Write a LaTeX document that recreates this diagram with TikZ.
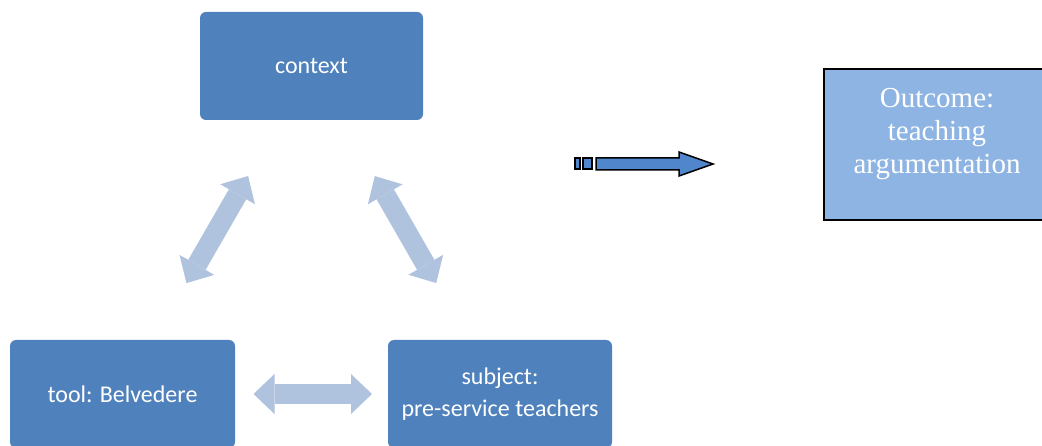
\documentclass[tikz,border=0pt]{standalone}
\usepackage{fontspec}
\setmainfont{Carlito}
\newfontfamily\timesfont{Liberation Serif}
\usetikzlibrary{arrows.meta}
\definecolor{boxblue}{HTML}{4F81BD}
\definecolor{lightarrow}{HTML}{B0C3DE}
\definecolor{outfill}{HTML}{8EB4E3}
\definecolor{arrowblue}{HTML}{4F86CC}
\begin{document}
\begin{tikzpicture}[x=1pt,y=-1pt,
  box/.style={draw=none, fill=boxblue, rounded corners=6pt, text=white,
    font=\fontsize{24}{29}\selectfont, align=center, inner sep=0pt},
  dbl/.style={draw=lightarrow, line width=20pt,
    {Triangle[width=40pt,length=21pt,line width=0pt]}-{Triangle[width=40pt,length=21pt,line width=0pt]}},
  stripe/.style={fill=arrowblue, draw=black, line width=1.5pt, line join=miter},
]
\useasboundingbox (0,0) rectangle (1042,446);
\fill[white] (0,0) rectangle (1042,446);
\node[box, minimum width=223pt, minimum height=108pt] (ctx) at (311.5,66) {context};
\node[box, minimum width=225pt, minimum height=108pt] (tool) at (122.5,394) {tool: Belvedere};
\node[box, minimum width=224pt, minimum height=108pt] (subj) at (500,394) {subject:\\[3pt]pre-service teachers};
\draw[dbl, shorten <=127pt, shorten >=128pt] (ctx.center) -- (tool.center);
\draw[dbl, shorten <=127pt, shorten >=128pt] (ctx.center) -- (subj.center);
\draw[dbl, shorten <=131pt, shorten >=128pt] (tool.center) -- (subj.center);
\node[draw=black, line width=2pt, fill=outfill, minimum width=228pt, minimum height=151pt, inner sep=0pt] (outcome) at (938,144.5) {};
\node[text=white, font=\timesfont\fontsize{29}{33}\selectfont, align=center, inner sep=0pt] (outtext) at (937,134) {Outcome:\\teaching\\argumentation};
\filldraw[stripe] (575,158) rectangle (580,169);
\filldraw[stripe] (583,158) rectangle (592,169);
\filldraw[stripe] (596,158) -- (679,158) -- (679,152) -- (713,164) -- (679,176) -- (679,170) -- (596,170) -- cycle;
\end{tikzpicture}
\end{document}
